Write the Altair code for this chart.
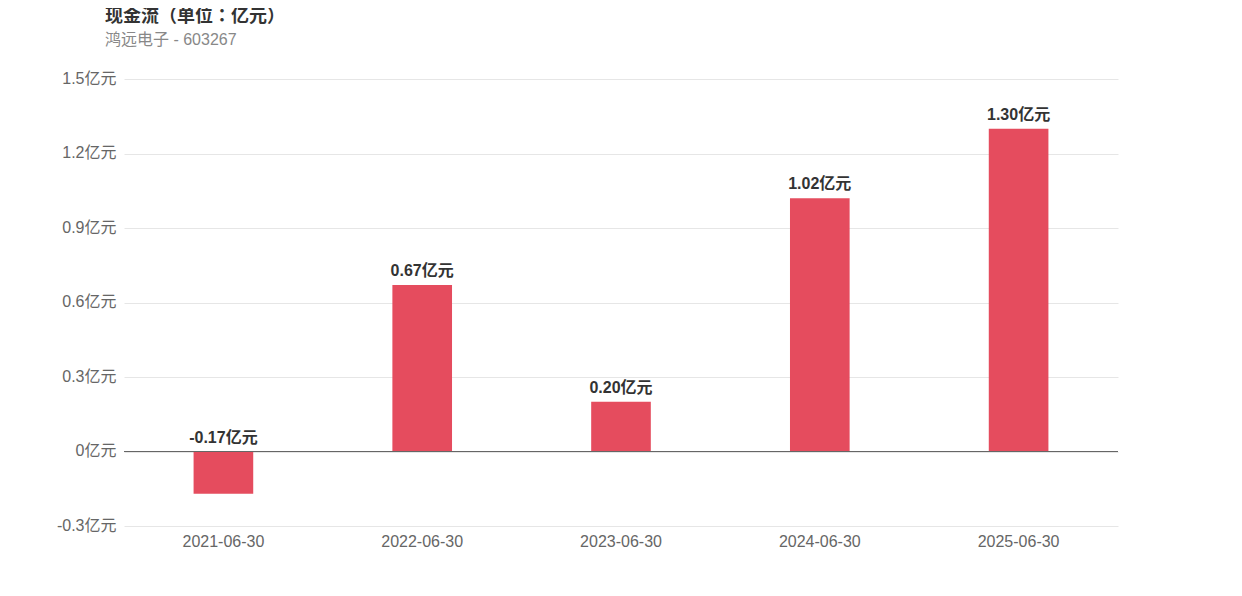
import altair as alt
import pandas as pd

dates = ["2021-06-30", "2022-06-30", "2023-06-30", "2024-06-30", "2025-06-30"]
values = [-0.17, 0.67, 0.20, 1.02, 1.30]
y_ticks = [-0.3, 0, 0.3, 0.6, 0.9, 1.2, 1.5]

df = pd.DataFrame({"date": dates, "value": values})
df["label"] = [f"{v:.2f}亿元" for v in values]
df["top"] = [max(v, 0) for v in values]

FONT = "'Liberation Sans', 'Noto Sans CJK TC', sans-serif"

x = alt.X("date:N", sort=dates, title=None,
          scale=alt.Scale(paddingInner=0.7, paddingOuter=0.35),
          axis=alt.Axis(labelAngle=0, ticks=False, domain=False, labelPadding=7,
                        labelColor="#666666", labelFontSize=16, labelFont=FONT))
y_scale = alt.Scale(domain=[-0.3, 1.5], nice=False, zero=False)

bars = alt.Chart(df).mark_bar(color="#e54c5e").encode(
    x=x,
    y=alt.Y("value:Q", scale=y_scale, title=None,
            axis=alt.Axis(values=y_ticks, ticks=False, domain=False, labelPadding=8,
                          labelOffset=-1,
                          labelExpr="'' + datum.value + '亿元'",
                          labelColor="#666666", labelFontSize=16, labelFont=FONT,
                          gridColor="#e6e6e6", gridWidth=1)),
    y2=alt.datum(0),
)

zero = alt.Chart(pd.DataFrame({"z": [0]})).mark_rule(color="#666666", strokeWidth=1).encode(
    y=alt.Y("z:Q", scale=y_scale)
)

labels = alt.Chart(df).mark_text(fontWeight="bold", fontSize=16, color="#333333",
                                 baseline="bottom", dy=-6, font=FONT).encode(
    x=alt.X("date:N", sort=dates),
    y=alt.Y("top:Q", scale=y_scale),
    text="label:N",
)

chart = alt.layer(bars, zero, labels).properties(
    width=994, height=447,
    autosize=alt.AutoSizeParams(type="none"),
    padding={"left": 116, "top": 71, "right": 116, "bottom": 60},
    title=alt.TitleParams(
        text="现金流（单位：亿元）", subtitle="鸿远电子 - 603267",
        anchor="start", frame="group", dx=-19, offset=22,
        font="'Noto Sans CJK TC', 'Liberation Sans', sans-serif",
        fontSize=18, fontWeight="bold", color="#333333",
        subtitleFont=FONT, subtitleFontSize=16, subtitleColor="#888888",
        subtitlePadding=6,
    ),
).configure_view(stroke=None)

chart.save("out.html", embed_options={"renderer": "svg", "actions": False})
